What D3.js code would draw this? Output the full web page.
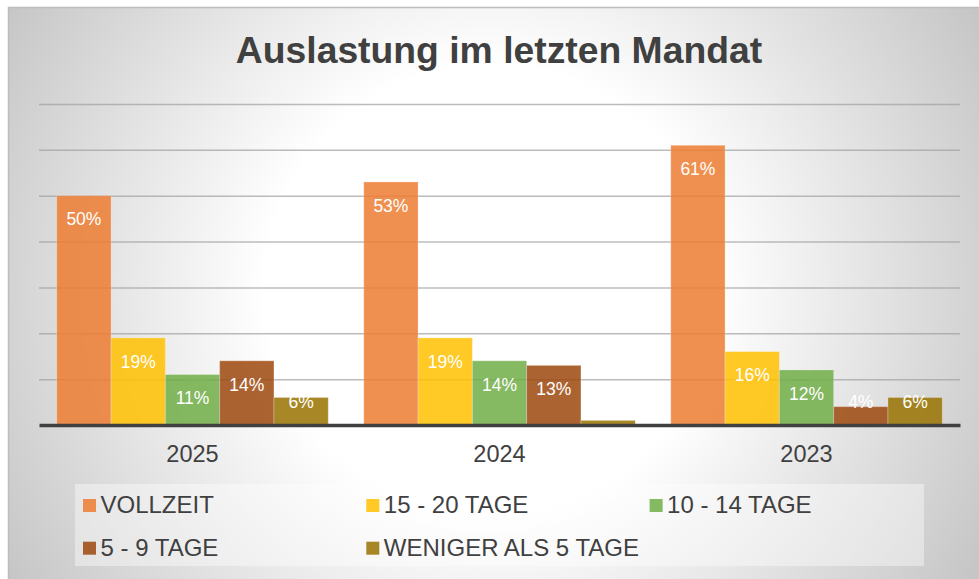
<!DOCTYPE html>
<html>
<head>
<meta charset="utf-8">
<script src="https://cdn.jsdelivr.net/npm/d3@7"></script>
<style>
  body { margin: 0; background: #fff; }
  svg { display: block; font-family: "Liberation Sans", Arial, sans-serif; }
</style>
</head>
<body>
<div id="chart"></div>
<script>
const years = ["2025", "2024", "2023"];
const series = ["VOLLZEIT", "15 - 20 TAGE", "10 - 14 TAGE", "5 - 9 TAGE", "WENIGER ALS 5 TAGE"];
const vollzeit = [50, 53, 61];
const tage15bis20 = [19, 19, 16];
const tage10bis14 = [11, 14, 12];
const tage5bis9 = [14, 13, 4];
const wenigerAls5 = [6, 1, 6];
const seriesColors = ["#ED7D31", "#FFC000", "#70AD47", "#9E480E", "#997300"];
const yTicks = [10, 20, 30, 40, 50, 60, 70];

const seriesValues = [vollzeit, tage15bis20, tage10bis14, tage5bis9, wenigerAls5];
const data = years.map((year, i) => ({
  year,
  values: series.map((s, j) => ({ key: s, value: seriesValues[j][i], color: seriesColors[j] }))
}));

const W = 979, H = 579;
const plot = { left: 39, right: 960, top: 104, bottom: 425 };

const svg = d3.select("#chart").append("svg")
  .attr("width", W)
  .attr("height", H);

const defs = svg.append("defs");
const grad = defs.append("radialGradient")
  .attr("id", "bg")
  .attr("gradientUnits", "userSpaceOnUse")
  .attr("cx", 490).attr("cy", 290).attr("r", 560);
grad.append("stop").attr("offset", 0).attr("stop-color", "#ffffff");
grad.append("stop").attr("offset", 0.4).attr("stop-color", "#ffffff");
grad.append("stop").attr("offset", 1).attr("stop-color", "#c6c6c6");

// chart frame
svg.append("rect")
  .attr("x", 8.5).attr("y", 7.5)
  .attr("width", 990).attr("height", 590)
  .attr("fill", "url(#bg)")
  .attr("stroke", "#bdbdbd")
  .attr("stroke-width", 1.5);

// title
svg.append("text")
  .attr("x", 499).attr("y", 62.5)
  .attr("text-anchor", "middle")
  .attr("font-size", 37.3)
  .attr("font-weight", "bold")
  .attr("fill", "#404040")
  .text("Auslastung im letzten Mandat");

const x0 = d3.scaleBand()
  .domain(years)
  .range([plot.left, plot.right])
  .padding(0);

const x1 = d3.scaleBand()
  .domain(series)
  .range([0, x0.bandwidth()])
  .paddingInner(0)
  .paddingOuter(0.327);

const y = d3.scaleLinear()
  .domain([0, 70])
  .range([plot.bottom, plot.top]);

// gridlines
const grid = svg.append("g")
  .attr("transform", `translate(${plot.left},0)`)
  .call(d3.axisLeft(y).tickValues(yTicks).tickSize(-(plot.right - plot.left)).tickFormat(""));
grid.select(".domain").remove();
grid.selectAll(".tick line")
  .attr("stroke", "#a0a0a0")
  .attr("stroke-opacity", 0.7)
  .attr("stroke-width", 1.5);

// bars
const groups = svg.append("g").selectAll("g")
  .data(data)
  .join("g")
  .attr("transform", d => `translate(${x0(d.year)},0)`);

groups.selectAll("rect")
  .data(d => d.values)
  .join("rect")
  .attr("x", d => x1(d.key))
  .attr("y", d => y(d.value))
  .attr("width", x1.bandwidth())
  .attr("height", d => y(0) - y(d.value))
  .attr("fill", d => d.color)
  .attr("fill-opacity", 0.85)
  .attr("stroke", "#ffffff")
  .attr("stroke-opacity", 0.25)
  .attr("stroke-width", 1);

// data labels (the tiny 2024 bar has none in the original)
groups.selectAll("text")
  .data(d => d.values.filter(v => v.value >= 2))
  .join("text")
  .attr("x", d => x1(d.key) + x1.bandwidth() / 2)
  .attr("y", d => Math.min(y(d.value) + 29.7, plot.bottom - 16.7))
  .attr("text-anchor", "middle")
  .attr("font-size", 17.5)
  .attr("fill", "#ffffff")
  .text(d => d.value + "%");

// x axis
const xAxis = svg.append("g")
  .attr("transform", `translate(0,${plot.bottom})`)
  .call(d3.axisBottom(x0).tickSize(0).tickPadding(0));
xAxis.select(".domain")
  .attr("stroke", "#404040")
  .attr("stroke-width", 3.5);
xAxis.selectAll(".tick text")
  .attr("font-family", "Liberation Sans, Arial, sans-serif")
  .attr("font-size", 23.5)
  .attr("fill", "#404040")
  .attr("dy", null)
  .attr("y", 37.3);

// legend
svg.append("rect")
  .attr("x", 75).attr("y", 484)
  .attr("width", 849).attr("height", 82)
  .attr("fill", "#ffffff")
  .attr("fill-opacity", 0.4);

const legend = svg.append("g").selectAll("g")
  .data(series)
  .join("g")
  .attr("transform", (d, i) => `translate(${83 + (i % 3) * 283.3},${i < 3 ? 499 : 541.7})`);

legend.append("rect")
  .attr("width", 13).attr("height", 13)
  .attr("fill", (d, i) => seriesColors[i])
  .attr("fill-opacity", 0.85);

legend.append("text")
  .attr("x", 17.5).attr("y", 14.3)
  .attr("font-size", 24)
  .attr("fill", "#404040")
  .text(d => d);
</script>
</body>
</html>
